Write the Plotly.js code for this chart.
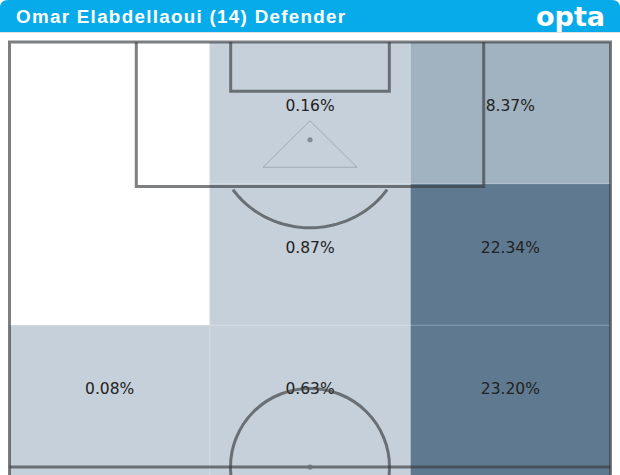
<!DOCTYPE html>
<html>
<head>
<meta charset="utf-8">
<script src="https://cdn.plot.ly/plotly-3.0.1.min.js"></script>
<style>
  html, body { margin: 0; padding: 0; background: #ffffff; }
  #chart { width: 620px; height: 475px; }
</style>
</head>
<body>
<div id="chart"></div>
<script>
// ---------- DATA ----------
const playerTitle = "Omar Elabdellaoui (14) Defender";
const brandText = "opta";
const zoneColumns = ["Left", "Centre", "Right"];
const zoneRows = ["Final third", "Middle third", "Halfway third"];
// share of touches per zone (%), rows from goal line downwards
const rowFinal = [0, 0.16, 8.37];
const rowMiddle = [0, 0.87, 22.34];
const rowHalfway = [0.08, 0.63, 23.20];
const zonePct = [rowFinal, rowMiddle, rowHalfway];
// colour bands: 0 -> empty, then thresholds
const bandEdges = [0, 5, 15, 30];
const bandColors = ["#c5d0da", "#a1b2c0", "#5f7a90"];

// ---------- GEOMETRY (pixel-mapped axes) ----------
const W = 620, H = 475;
const PL = 9.5, PR = 610.5, PT = 42, PH = 467;   // pitch left/right/top/halfway
const pw = PR - PL, unit = (PH - PT) / 50;       // opta units along length
const px = p => PL + pw * p / 100;              // width % -> px
const py = u => PT + unit * u;                  // length units -> px
const midX = px(50);

const xEdges = [0, 1, 2, 3].map(i => PL + pw * i / 3);
const rowH = (PH - PT) / 3;
const yEdges = [PT, PT + rowH, PT + 2 * rowH, H + 5];
const xCent = [0, 1, 2].map(i => (xEdges[i] + xEdges[i + 1]) / 2);
const yCent = [0, 1, 2].map(i => PT + rowH * (i + 0.5));
const labelLift = -5.8;

// stepped colourscale
const zmax = bandEdges[bandEdges.length - 1];
const cs = [[0, "#ffffff"], [0.0005, "#ffffff"]];
for (let i = 0; i < bandColors.length; i++) {
  const a = i === 0 ? 0.0005 : bandEdges[i] / zmax;
  const b = bandEdges[i + 1] / zmax;
  cs.push([a, bandColors[i]], [b, bandColors[i]]);
}

const heat = {
  type: "heatmap",
  x: xEdges, y: yEdges, z: zonePct,
  zmin: 0, zmax: zmax, colorscale: cs, showscale: false,
  hoverinfo: "skip", zsmooth: false
};

const lx = [], ly = [], lt = [];
zonePct.forEach((row, r) => row.forEach((v, c) => {
  if (v > 0) { lx.push(xCent[c]); ly.push(yCent[r] + labelLift); lt.push(v.toFixed(2) + "%"); }
}));
const labels = {
  type: "scatter", mode: "text", x: lx, y: ly, text: lt,
  textposition: "middle center", hoverinfo: "skip", cliponaxis: false,
  textfont: { family: "DejaVu Sans", size: 15.5, color: "#222222" }
};

// ---------- PITCH MARKINGS ----------
const lineCol = "rgba(58,60,64,0.66)";
const lw = 3;
function ellArc(cx, cy, rx, ry, yCut) {
  const pts = [];
  for (let i = 0; i <= 120; i++) {
    const t = Math.PI * i / 120;
    const x = cx + rx * Math.cos(t), y = cy + ry * Math.sin(t);
    if (y >= yCut) pts.push([x, y]);
  }
  return "M" + pts.map(p => p[0].toFixed(2) + "," + p[1].toFixed(2)).join(" L");
}
const spotY = py(11.5);
const shapes = [
  // faint cell separators
  ...xEdges.slice(1, 3).map(x => ({ type: "line", x0: x, x1: x, y0: PT, y1: H, line: { color: "rgba(255,255,255,0.25)", width: 1 } })),
  ...yEdges.slice(1, 3).map(y => ({ type: "line", x0: PL, x1: PR, y0: y, y1: y, line: { color: "rgba(255,255,255,0.25)", width: 1 } })),
  // header
  { type: "path", path: "M0,32 L0,8 Q0,0 8,0 L612,0 Q620,0 620,8 L620,32 Z", fillcolor: "#08abea", line: { width: 0 } },
  { type: "line", x0: 0, x1: W, y0: 32.5, y1: 32.5, line: { color: "#e2e2e2", width: 1 } },
  // outer lines
  { type: "path", path: `M${PL},${H + 5} L${PL},${PT} L${PR},${PT} L${PR},${H + 5}`, line: { color: lineCol, width: lw } },
  { type: "line", x0: PL, x1: PR, y0: PH, y1: PH, line: { color: lineCol, width: lw } },
  // penalty box
  { type: "path", path: `M${px(21.1)},${PT} L${px(21.1)},${py(17)} L${px(78.9)},${py(17)} L${px(78.9)},${PT}`, line: { color: lineCol, width: lw } },
  // six-yard box
  { type: "path", path: `M${px(36.8)},${PT} L${px(36.8)},${py(5.8)} L${px(63.2)},${py(5.8)} L${px(63.2)},${PT}`, line: { color: lineCol, width: lw } },
  // penalty arc
  { type: "path", path: ellArc(midX, spotY, 93.5, 88, py(17) + 1.5), line: { color: lineCol, width: lw } },
  // marker triangle
  { type: "path", path: `M${midX},${spotY - 19} L${midX + 47},${spotY + 27.5} L${midX - 47},${spotY + 27.5} Z`, line: { color: "rgba(120,124,130,0.45)", width: 1 } },
  // penalty spot
  { type: "circle", x0: midX - 2.6, x1: midX + 2.6, y0: spotY - 2.6, y1: spotY + 2.6, fillcolor: "rgba(110,116,124,0.75)", line: { width: 0 } },
  // centre circle
  { type: "circle", x0: midX - 79.5, x1: midX + 79.5, y0: PH - 78.5, y1: PH + 78.5, line: { color: lineCol, width: lw } },
  { type: "circle", x0: midX - 2.6, x1: midX + 2.6, y0: PH - 2.6, y1: PH + 2.6, fillcolor: "rgba(110,116,124,0.85)", line: { width: 0 } }
];

const annotations = [
  { x: 14, y: 16, xref: "x", yref: "y", xanchor: "left", yanchor: "middle", showarrow: false,
    text: '<span style="letter-spacing:1.3px">' + playerTitle + "</span>",
    font: { family: "Liberation Sans, Arial", size: 18.8, color: "#ffffff", weight: 700 } },
  { x: 607, y: 16.5, xref: "x", yref: "y", xanchor: "right", yanchor: "middle", showarrow: false,
    text: brandText,
    font: { family: "DejaVu Sans", size: 27, color: "#ffffff", weight: 700 } }
];

const layout = {
  width: W, height: H,
  margin: { l: 0, r: 0, t: 0, b: 0, pad: 0 },
  paper_bgcolor: "#ffffff", plot_bgcolor: "#ffffff",
  xaxis: { range: [0, W], visible: false, fixedrange: true },
  yaxis: { range: [H, 0], visible: false, fixedrange: true },
  showlegend: false,
  shapes: shapes,
  annotations: annotations
};

Plotly.newPlot("chart", [heat, labels], layout, { staticPlot: true, displayModeBar: false });
</script>
</body>
</html>
